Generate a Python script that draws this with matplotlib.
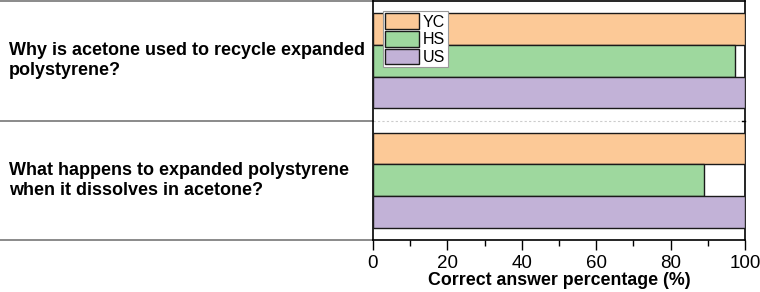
import matplotlib.pyplot as plt
import matplotlib.transforms as mtrans
import numpy as np

plt.rcParams['font.family'] = ['Liberation Sans', 'DejaVu Sans']

# data
questions = ['Why is acetone used to recycle expanded\npolystyrene?',
             'What happens to expanded polystyrene\nwhen it dissolves in acetone?']
groups = ['YC', 'HS', 'US']
yc = [100, 100]
hs = [97.3, 88.9]
us = [100, 100]
colors = ['#FCC997', '#9ED89E', '#C2B2D7']

fig = plt.figure(figsize=(7.6, 2.92), dpi=100)
ax = fig.add_axes([373/760, 1-240/292, 372/760, 239/292])

y = np.arange(len(questions))
h = 0.265
for i, (vals, lab) in enumerate(zip([yc, hs, us], groups)):
    ax.barh(y + (i-1)*h, vals, height=h, color=colors[i], edgecolor='#1a1a1a',
            linewidth=1.0, label=lab, zorder=3)

ax.set_xlim(0, 100)
ax.set_ylim(1.5, -0.5)
ax.set_xticks(np.arange(0, 101, 20))
ax.set_xticks(np.arange(10, 100, 20), minor=True)
ax.tick_params(axis='x', which='major', length=7, width=1, labelsize=13.5, pad=4)
ax.tick_params(axis='x', which='minor', length=4, width=1)
ax.set_yticks([])
ax.set_xlabel('Correct answer percentage (%)', fontsize=12.8, fontweight='bold', labelpad=0)
for s in ax.spines.values():
    s.set_linewidth(1.2)

# dashed separator inside axes
ax.axhline(0.5, color='#cccccc', linestyle=(0, (2, 2)), linewidth=0.8, zorder=1)
ax.plot([99.2, 100], [0.5, 0.5], color='black', lw=1, clip_on=False)

# table lines and question labels on the left
tr = mtrans.blended_transform_factory(fig.transFigure, ax.transData)
for yy in [-0.5, 0.5, 1.5]:
    ax.plot([0, 373/760], [yy, yy], color='#777777', lw=1.2, transform=tr, clip_on=False)
for yy, q in zip(y, questions):
    ax.text(9/760, yy, q, transform=tr, ha='left', va='center', fontsize=13,
            fontweight='bold', linespacing=1.25)

leg = ax.legend(loc='upper left', bbox_to_anchor=(10/372, 1-10/239), fontsize=11.5,
                handlelength=2.1, handleheight=1.15, labelspacing=0.08, handletextpad=0.25,
                borderpad=0.15, borderaxespad=0, fancybox=False, framealpha=1,
                edgecolor='#999999')
leg.get_frame().set_linewidth(0.8)

fig.savefig('out.png', dpi=100)
